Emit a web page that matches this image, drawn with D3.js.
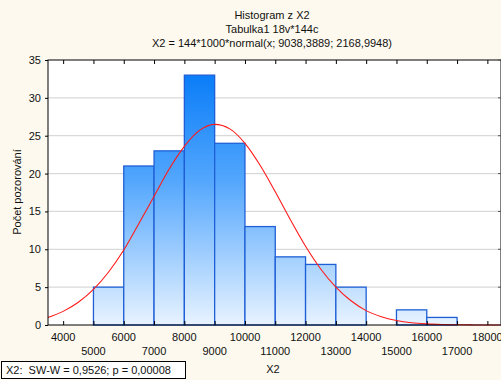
<!DOCTYPE html>
<html>
<head>
<meta charset="utf-8">
<script src="https://cdn.jsdelivr.net/npm/d3@7"></script>
<style>
  body { margin: 0; background: #fdf9ee; }
  text { font-family: "Liberation Sans", Arial, sans-serif; fill: #111; }
</style>
</head>
<body>
<div id="chart"></div>
<script>
// chart size
const c_width = 501;
const c_height = 380;

// histogram bins (lower edge) and counts
const binStarts = [4000, 5000, 6000, 7000, 8000, 9000, 10000, 11000, 12000, 13000, 14000, 15000, 16000];
const counts    = [0,    5,    21,   23,   33,   24,   13,    9,     8,     5,     0,     2,     1];
const binWidth = 1000;

// fitted normal curve, every 500
const curveX = [3500, 4000, 4500, 5000, 5500, 6000, 6500, 7000, 7500, 8000, 8500, 9000, 9500, 10000,
                10500, 11000, 11500, 12000, 12500, 13000, 13500, 14000, 14500, 15000, 15500, 16000,
                16500, 17000, 17500, 18000, 18500];
const curveY = [1.0, 1.8, 3.0, 4.7, 7.0, 9.9, 13.4, 17.0, 20.6, 23.6, 25.7, 26.5, 25.9, 24.0,
                21.1, 17.6, 13.9, 10.4, 7.4, 5.0, 3.2, 1.9, 1.1, 0.6, 0.3, 0.15,
                0.07, 0.03, 0.01, 0, 0];

// tick labels
const xTicks = [4000, 5000, 6000, 7000, 8000, 9000, 10000, 11000, 12000, 13000, 14000, 15000, 16000, 17000, 18000];
const yTicks = [0, 5, 10, 15, 20, 25, 30, 35];

const titleLines = ["Histogram z X2", "Tabulka1 18v*144c", "X2 = 144*1000*normal(x; 9038,3889; 2168,9948)"];

// plot area
const pLeft = 48, pRight = 501, pTop = 60, pBottom = 325;

const svg = d3.select("#chart")
              .append("svg")
              .attr("width", c_width)
              .attr("height", c_height);

svg.append("rect").attr("width", c_width).attr("height", c_height).attr("fill", "#fdf9ee");

const xScale = d3.scaleLinear().domain([3500, 18450]).range([pLeft, pRight]);
const yScale = d3.scaleLinear().domain([0, 35]).range([pBottom, pTop]);

// gradient across the plot height
const grad = svg.append("defs").append("linearGradient")
                .attr("id", "barGrad")
                .attr("gradientUnits", "userSpaceOnUse")
                .attr("x1", 0).attr("x2", 0)
                .attr("y1", pTop).attr("y2", pBottom);
grad.append("stop").attr("offset", "0%").attr("stop-color", "#0077f7");
grad.append("stop").attr("offset", "45%").attr("stop-color", "#52a6fd");
grad.append("stop").attr("offset", "100%").attr("stop-color", "#e8f3ff");

// plot background
svg.append("rect")
   .attr("x", pLeft).attr("y", pTop)
   .attr("width", pRight - pLeft).attr("height", pBottom - pTop)
   .attr("fill", "#fff");

// grid lines
svg.append("g")
   .selectAll("line")
   .data(yTicks.filter(d => d > 0 && d < 35))
   .enter()
   .append("line")
   .attr("x1", pLeft).attr("x2", pRight)
   .attr("y1", d => yScale(d)).attr("y2", d => yScale(d))
   .attr("stroke", "#d9d9d9")
   .attr("stroke-width", 1.2);

// bars
svg.append("g")
   .selectAll("rect")
   .data(binStarts)
   .enter()
   .append("rect")
   .attr("x", d => xScale(d))
   .attr("y", (d, i) => yScale(counts[i]))
   .attr("width", d => xScale(d + binWidth) - xScale(d))
   .attr("height", (d, i) => yScale(0) - yScale(counts[i]))
   .attr("fill", "url(#barGrad)")
   .attr("stroke", "#1f5fd6")
   .attr("stroke-width", 1.3);

// normal curve
const line = d3.line()
               .x((d, i) => xScale(curveX[i]))
               .y(d => yScale(d))
               .curve(d3.curveMonotoneX);

svg.append("path")
   .datum(curveY)
   .attr("d", line)
   .attr("fill", "none")
   .attr("stroke", "#ff1a1a")
   .attr("stroke-width", 1.1);

// frame
svg.append("rect")
   .attr("x", pLeft).attr("y", pTop)
   .attr("width", pRight - pLeft).attr("height", pBottom - pTop)
   .attr("fill", "none")
   .attr("stroke", "#000")
   .attr("stroke-width", 1);

// x axis (bottom), labels on two rows
const xAxis = d3.axisBottom(xScale).tickValues(xTicks).tickSizeInner(-4).tickSizeOuter(0).tickFormat("");
svg.append("g")
   .attr("transform", "translate(0," + pBottom + ")")
   .call(xAxis)
   .call(g => g.select(".domain").remove())
   .call(g => g.selectAll("line").attr("stroke", "#000"));

svg.append("g")
   .selectAll("text")
   .data(xTicks)
   .enter()
   .append("text")
   .attr("x", d => xScale(d))
   .attr("y", (d, i) => i % 2 === 0 ? 341 : 355)
   .attr("text-anchor", "middle")
   .attr("font-size", 11)
   .text(d => d);

// top ticks
const xTopAxis = d3.axisTop(xScale).tickValues(xTicks).tickSizeInner(-4).tickSizeOuter(0).tickFormat("");
svg.append("g")
   .attr("transform", "translate(0," + pTop + ")")
   .call(xTopAxis)
   .call(g => g.select(".domain").remove())
   .call(g => g.selectAll("line").attr("stroke", "#000"));

// y axis
const yAxis = d3.axisLeft(yScale).tickValues(yTicks).tickSizeInner(3).tickSizeOuter(0).tickPadding(4);
svg.append("g")
   .attr("transform", "translate(" + pLeft + ",0)")
   .call(yAxis)
   .call(g => g.select(".domain").remove())
   .call(g => g.selectAll("text").attr("font-size", 11).attr("font-family", "Liberation Sans, Arial, sans-serif"));

// right ticks
svg.append("g")
   .selectAll("line")
   .data(yTicks)
   .enter()
   .append("line")
   .attr("x1", pRight - 3).attr("x2", pRight)
   .attr("y1", d => yScale(d)).attr("y2", d => yScale(d))
   .attr("stroke", "#555");

// titles
svg.append("g")
   .selectAll("text")
   .data(titleLines)
   .enter()
   .append("text")
   .attr("x", 272)
   .attr("y", (d, i) => 19 + i * 14)
   .attr("text-anchor", "middle")
   .attr("font-size", 11)
   .text(d => d);

// axis titles
svg.append("text")
   .attr("x", 273)
   .attr("y", 373)
   .attr("text-anchor", "middle")
   .attr("font-size", 11)
   .text("X2");

svg.append("text")
   .attr("transform", "translate(21,192) rotate(-90)")
   .attr("text-anchor", "middle")
   .attr("font-size", 11)
   .text("Počet pozorování");

// test box
svg.append("rect")
   .attr("x", 1.5).attr("y", 361.5)
   .attr("width", 184).attr("height", 17)
   .attr("fill", "#fff")
   .attr("stroke", "#000");
svg.append("text")
   .attr("x", 6)
   .attr("y", 374)
   .attr("font-size", 11)
   .attr("xml:space", "preserve")
   .text("X2:  SW-W = 0,9526; p = 0,00008");
</script>
</body>
</html>
